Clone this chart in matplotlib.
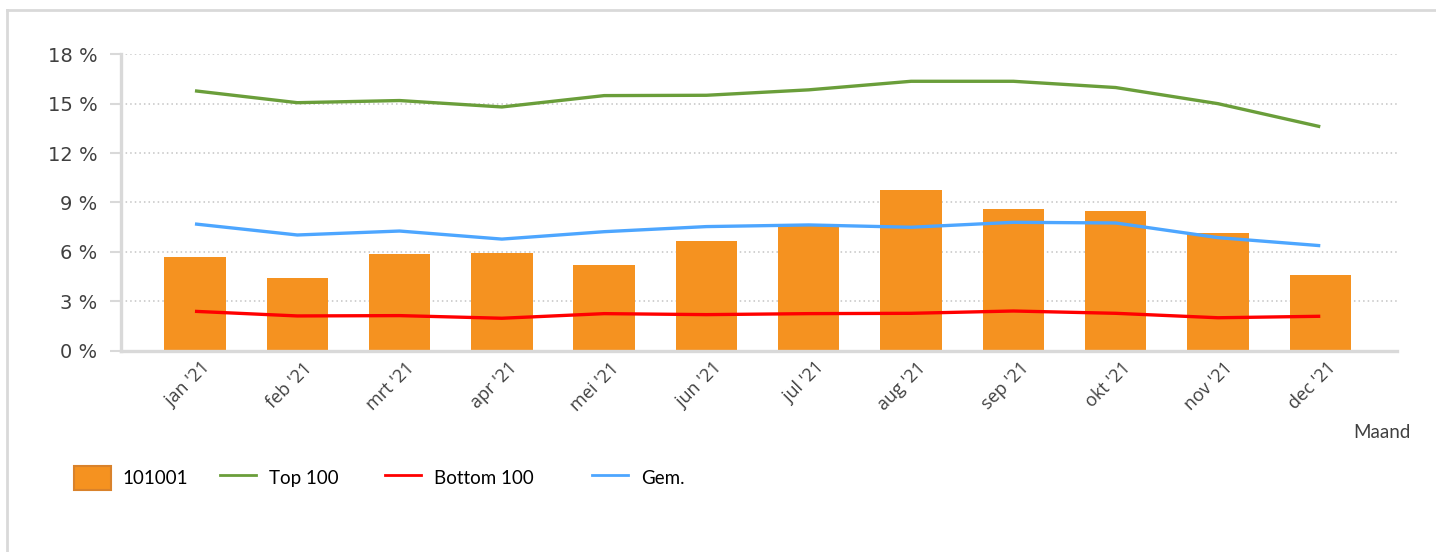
import matplotlib
matplotlib.use("Agg")
import matplotlib.pyplot as plt
from matplotlib.lines import Line2D
from matplotlib.patches import Patch
from matplotlib.ticker import FuncFormatter
from matplotlib.transforms import ScaledTranslation
import numpy as np

months = ["jan '21", "feb '21", "mrt '21", "apr '21", "mei '21", "jun '21",
          "jul '21", "aug '21", "sep '21", "okt '21", "nov '21", "dec '21"]
own_values = [5.68, 4.41, 5.87, 5.93, 5.20, 6.66, 7.59, 9.76, 8.60, 8.48, 7.14, 4.59]
top100 = [15.78, 15.06, 15.19, 14.80, 15.49, 15.51, 15.84, 16.36, 16.36, 15.98, 15.00, 13.60]
bottom100 = [2.38, 2.10, 2.12, 1.96, 2.24, 2.18, 2.24, 2.26, 2.40, 2.26, 1.99, 2.08]
average = [7.69, 7.02, 7.26, 6.77, 7.22, 7.53, 7.63, 7.49, 7.79, 7.75, 6.86, 6.37]
y_ticks = [0, 3, 6, 9, 12, 15, 18]
series_names = ["101001", "Top 100", "Bottom 100", "Gem."]

BAR_COLOR = "#f59220"
LINE_COLORS = ["#6a9e3a", "#ff0000", "#4da6ff"]

W, H = 1436, 552
fig = plt.figure(figsize=(W / 100, H / 100), dpi=100)
ax = fig.add_axes([121 / W, 1 - 350.5 / H, (1397 - 121) / W, (350.5 - 54.3) / H])

x = np.arange(len(months))
ax.bar(x, own_values, width=0.6, color=BAR_COLOR, zorder=2, label=series_names[0])
for values, color, name in zip([top100, bottom100, average], LINE_COLORS, series_names[1:]):
    ax.plot(x, values, color=color, lw=2.4, zorder=3, label=name, solid_capstyle="butt")

ax.set_xlim(-0.723, 11.75)
ax.set_ylim(0, 18)
ax.set_yticks(y_ticks)
ax.yaxis.set_major_formatter(FuncFormatter(lambda v, p: f"{int(v)} %"))
ax.tick_params(axis="y", direction="out", length=8, width=1.5, color="#d9d9d9",
               labelsize=14, labelcolor="#404040", pad=9)
ax.grid(axis="y", color="#c4c4c4", linestyle=(0, (1, 2)), lw=1.1, zorder=0)

ax.set_xticks(x)
ax.set_xticklabels(months, rotation=45, ha="right", va="top", rotation_mode="anchor",
                   fontfamily="Open Sans", fontsize=13, color="#404040")
ax.tick_params(axis="x", length=0, pad=6)
shift = ScaledTranslation(6 / 100, 0, fig.dpi_scale_trans)
for lbl in ax.get_xticklabels():
    lbl.set_transform(lbl.get_transform() + shift)

for side in ("top", "right"):
    ax.spines[side].set_visible(False)
for side in ("left", "bottom"):
    ax.spines[side].set_color("#d9d9d9")
    ax.spines[side].set_linewidth(2.4)

fig.text(1411 / W, 1 - 433 / H, "Maand", ha="right", va="center",
         fontfamily="Lato", fontsize=13.5, color="#404040")

# legend entries laid out one by one along the bottom
handles = [Patch(facecolor=BAR_COLOR, edgecolor="#d9822b", linewidth=1.5)] + \
          [Line2D([], [], color=c, lw=2) for c in LINE_COLORS]
starts = [74, 220, 385, 592]
for i, (h, name, xs) in enumerate(zip(handles, series_names, starts)):
    fig.legend([h], [name], loc="center left", bbox_to_anchor=(xs / W, 1 - 478 / H),
               frameon=False, borderaxespad=0, borderpad=0,
               handlelength=1.97 if i == 0 else 1.9, handleheight=1.55,
               handletextpad=0.64 if i == 0 else 0.72,
               prop={"family": "Lato", "size": 13.5})

frame_kw = dict(transform=fig.transFigure, color="#d9d9d9", lw=2)
fig.add_artist(Line2D([7 / W, 7 / W], [0, 1 - 10 / H], **frame_kw))
fig.add_artist(Line2D([7 / W, 1], [1 - 10 / H, 1 - 10 / H], **frame_kw))

fig.savefig("out.png", dpi=100, facecolor="white")
